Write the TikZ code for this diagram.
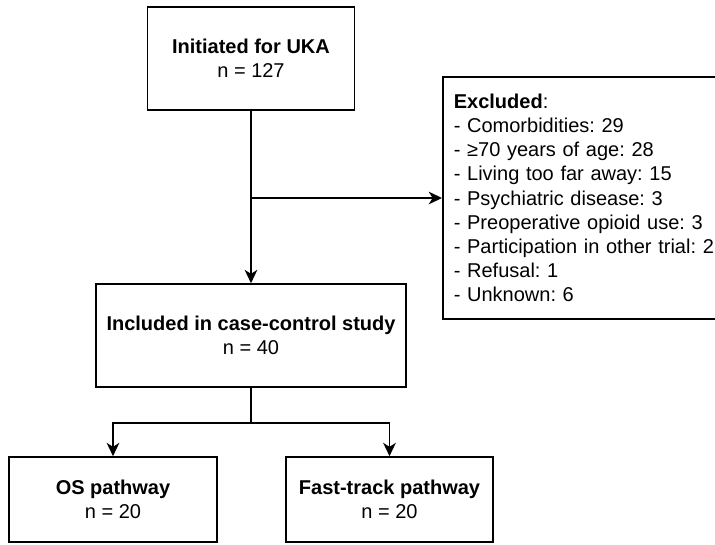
\documentclass[tikz,border=0pt]{standalone}
\usepackage{fontspec}
\setmainfont{Liberation Sans}
\usetikzlibrary{arrows.meta}
\frenchspacing
\begin{document}
\begin{tikzpicture}[x=0.75pt,y=-0.75pt,
  box/.style={draw, line width=1.25pt, align=center, inner sep=0pt,
    font=\fontsize{15}{18.15}\selectfont},
  arr/.style={line width=1.25pt, -{Stealth[length=10pt,width=9.5pt,inset=3pt]}},
  ln/.style={line width=1.25pt}]
\useasboundingbox (0,0) rectangle (715,544);
\clip (0,0) rectangle (715,544);
\node[box, minimum width=155.25pt, minimum height=77.25pt] (b1) at (251,58.5)
  {\textbf{Initiated for UKA}\\n = 127};
\node[box, anchor=west, align=left, text width=250pt, inner xsep=8.25pt,
  minimum height=181.5pt] (excl) at (442,198)
  {\textbf{Excluded}:\\
   - Comorbidities: 29\\
   - ≥70 years of age: 28\\
   - Living too far away: 15\\
   - Psychiatric disease: 3\\
   - Preoperative opioid use: 3\\
   - Participation in other trial: 2\\
   - Refusal: 1\\
   - Unknown: 6};
\node[box, minimum width=232.5pt, minimum height=77.25pt] (b2) at (251,335.5)
  {\textbf{Included in case-control study}\\n = 40};
\node[box, minimum width=156pt, minimum height=63.75pt] (os) at (113,499.5)
  {\textbf{OS pathway}\\n = 20};
\node[box, minimum width=155.25pt, minimum height=63.75pt] (ft) at (389.5,499.5)
  {\textbf{Fast-track pathway}\\n = 20};
\draw[arr] (b1) -- (b2);
\coordinate (j1) at (b1.south |- excl.west);
\draw[arr] (j1) -- (excl.west);
\coordinate (j2) at (251,423);
\draw[ln] (b2.south) -- (j2);
\draw[arr] (j2) -| (os.north);
\draw[arr] (j2) -| (ft.north);
\end{tikzpicture}
\end{document}
